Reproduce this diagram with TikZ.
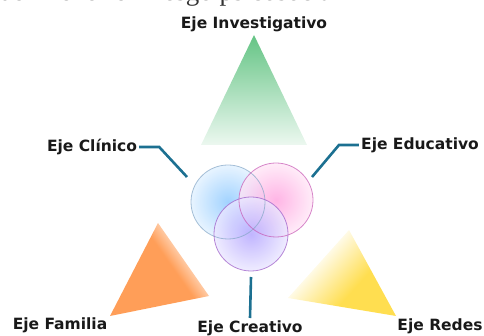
\documentclass[tikz,border=0pt]{standalone}
\usepackage{fontspec}
\setmainfont{Liberation Serif}
\newfontfamily\ejefont{DejaVu Sans}
\usepackage{tikz}
\usetikzlibrary{positioning}

\definecolor{ejeline}{RGB}{28,112,145}
\definecolor{ejegreen}{RGB}{100,196,132}
\definecolor{ejeorange}{RGB}{255,158,88}
\definecolor{ejeyellow}{RGB}{255,222,80}
\definecolor{ejeblue}{RGB}{135,198,255}
\definecolor{ejepink}{RGB}{255,160,222}
\definecolor{ejeviolet}{RGB}{175,160,255}

\pgfdeclarehorizontalshading{fadenaranja}{100bp}{color(0bp)=(ejeorange); color(56bp)=(ejeorange); color(72bp)=(white); color(100bp)=(white)}
\pgfdeclarehorizontalshading{fadeamarillo}{100bp}{color(0bp)=(white); color(34bp)=(white); color(60bp)=(ejeyellow); color(100bp)=(ejeyellow)}

\begin{document}
\begin{tikzpicture}[x=1pt, y=-1pt,
    eje/.style={font=\ejefont\bfseries\fontsize{15.5}{17}\selectfont, text=black!90, inner sep=0pt},
    link/.style={draw=ejeline, line width=2.6pt}]
        \useasboundingbox (0,0) rectangle (484,336);
        \clip (0,0) rectangle (484,336);

        \node[anchor=base west, inner sep=0pt, text=black!80,
              font=\fontsize{27}{30}\selectfont] (titulo) at (-1,0.5) {del menor en riesgo psicosocial};

        % triangulos
        \shade[top color=ejegreen, bottom color=ejegreen!12] (254,35) -- (307,145) -- (201,145) -- cycle;
        \shade[shading=fadenaranja, shading angle=35] (158,223) -- (209,296) -- (110,316) -- cycle;
        \shade[shading=fadeamarillo, shading angle=-42] (349,230) -- (396,316) -- (288,298) -- cycle;

        % circulos
        \foreach \x/\y/\col in {228/202/ejeblue, 276/200/ejepink, 251/234/ejeviolet}
        {
            \shade[inner color=\col, outer color=\col!25, fill opacity=0.78] (\x,\y) circle[radius=37pt];
        }
        \foreach \x/\y/\borde in {228/202/ejeblue!55!gray, 276/200/ejepink!55!violet, 251/234/ejeviolet!55!violet}
        {
            \draw[\borde, line width=0.8pt, opacity=0.7] (\x,\y) circle[radius=37pt];
        }

        % etiquetas
        \node[eje] (invest) at (254,24) {Eje Investigativo};
        \node[eje] (clinico) at (92,147) {Eje Clínico};
        \node[eje] (educ) at (420,145) {Eje Educativo};
        \node[eje] (creat) at (250,328) {Eje Creativo};
        \node[eje] (fam) at (60,325) {Eje Familia};
        \node[eje] (redes) at (440,326) {Eje Redes};

        \coordinate (clinFin) at (187,177);
        \coordinate (educFin) at (312,177);
        \coordinate (creatFin) at (251,277);

        \draw[link] (clinico.east) ++(2,0) -- ++(20,0) -- (clinFin);
        \draw[link] (educ.west) ++(-2,0) -- ++(-20,0) -- (educFin);
        \draw[link] (creatFin) -- (creat.north |- 0,318);
\end{tikzpicture}
\end{document}
